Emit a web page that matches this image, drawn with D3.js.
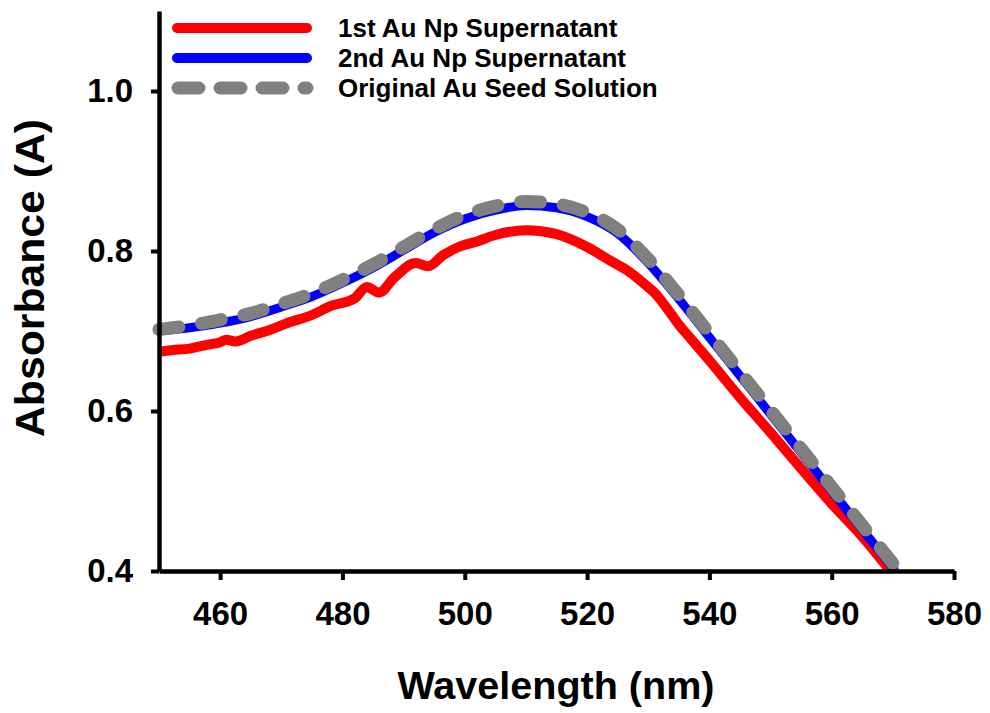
<!DOCTYPE html>
<html>
<head>
<meta charset="utf-8">
<script src="https://cdn.jsdelivr.net/npm/d3@7"></script>
<style>
    body { margin: 0; background: #fff; }
    text { font-family: Arial, "Liberation Sans", sans-serif; font-weight: bold; fill: #000; }
</style>
</head>
<body>
<div class="container"></div>
<script>
const width = 990;
const height = 713;
const margin = { left: 159, right: 34, top: 11, bottom: 142 };

const xTicks = [460, 480, 500, 520, 540, 560, 580];
const yTicks = [0.4, 0.6, 0.8, 1.0];
const seriesNames = ['1st Au Np Supernatant', '2nd Au Np Supernatant', 'Original Au Seed Solution'];

// 1st supernatant (red)
const redWavelength = [450, 452, 455, 458, 460, 461, 462.5, 465, 468, 471, 475, 478, 482, 484, 486, 488.5,
    492, 494, 496.5, 499, 502, 505, 510, 515, 520, 524, 526.5, 529.5, 531, 533, 535, 537, 540,
    545, 550, 555, 560, 565, 569.3];
const redAbsorbance = [0.674, 0.676, 0.678, 0.683, 0.686, 0.689, 0.687, 0.694, 0.701, 0.710, 0.720, 0.731,
    0.741, 0.755, 0.748, 0.767, 0.785, 0.781, 0.795, 0.805, 0.812, 0.820, 0.826, 0.821, 0.805, 0.787,
    0.776, 0.758, 0.748, 0.729, 0.708, 0.690, 0.663, 0.617, 0.573, 0.528, 0.484, 0.443, 0.403];

// 2nd supernatant (blue)
const blueWavelength = [450, 455, 460, 465, 470, 475, 480, 485, 490, 495, 500, 505, 510, 515, 520, 525,
    530, 535, 540, 545, 550, 555, 560, 565, 570.4];
const blueAbsorbance = [0.700, 0.704, 0.710, 0.718, 0.730, 0.743, 0.760, 0.779, 0.801, 0.823, 0.840, 0.851,
    0.857, 0.854, 0.843, 0.822, 0.785, 0.740, 0.692, 0.644, 0.596, 0.548, 0.500, 0.452, 0.400];

// original seed solution (grey, dashed)
const greyWavelength = [450, 455, 460, 465, 470, 475, 480, 485, 490, 495, 500, 505, 510, 515, 520, 525,
    530, 535, 540, 545, 550, 555, 560, 565, 571];
const greyAbsorbance = [0.702, 0.707, 0.714, 0.722, 0.734, 0.747, 0.764, 0.783, 0.805, 0.827, 0.845, 0.856,
    0.862, 0.859, 0.848, 0.827, 0.790, 0.745, 0.697, 0.649, 0.601, 0.553, 0.505, 0.457, 0.400];

const seriesColors = ['#ff0000', '#0000ff', '#808080'];
const seriesWidths = [10, 9, 13];
const seriesDashes = [null, null, '20,23'];

function toPoints(xs, ys) {
    return xs.map((x, i) => ({ x, y: ys[i] }));
}

const series = [
    toPoints(redWavelength, redAbsorbance),
    toPoints(blueWavelength, blueAbsorbance),
    toPoints(greyWavelength, greyAbsorbance),
];

const x = d3.scaleLinear().domain([450, 580]).range([margin.left, width - margin.right - 2]);
const y = d3.scaleLinear().domain([0.4, 1.1]).range([height - margin.bottom, margin.top]);

const svg = d3.select('.container')
    .append('svg')
    .attr('width', width)
    .attr('height', height);

// curves
const line = d3.line()
    .x(d => x(d.x))
    .y(d => y(d.y))
    .curve(d3.curveMonotoneX);

svg.selectAll('.series')
    .data(series)
    .enter()
    .append('path')
    .attr('class', 'series')
    .attr('d', line)
    .attr('fill', 'none')
    .attr('stroke', (d, i) => seriesColors[i])
    .attr('stroke-width', (d, i) => seriesWidths[i])
    .attr('stroke-dasharray', (d, i) => seriesDashes[i])
    .attr('stroke-linecap', (d, i) => seriesDashes[i] ? 'round' : 'butt')
    .attr('stroke-linejoin', 'round');

// axes
const xAxis = svg.append('g')
    .attr('transform', `translate(0,${y(0.4)})`)
    .call(d3.axisBottom(x).tickValues(xTicks).tickFormat(d3.format('d'))
        .tickSize(9).tickSizeOuter(0).tickPadding(22));

const yAxis = svg.append('g')
    .attr('transform', `translate(${x(450)},0)`)
    .call(d3.axisLeft(y).tickValues(yTicks).tickFormat(d3.format('.1f'))
        .tickSize(8).tickSizeOuter(0).tickPadding(18));

[xAxis, yAxis].forEach(g => {
    g.select('.domain').attr('stroke', '#000').attr('stroke-width', 4.5);
    g.selectAll('.tick line').attr('stroke', '#000').attr('stroke-width', 4);
    g.selectAll('.tick text')
        .attr('font-size', 33)
        .attr('font-family', 'Arial, "Liberation Sans", sans-serif')
        .attr('font-weight', 'bold')
        .attr('fill', '#000');
});

// axis titles
svg.append('text')
    .attr('x', 556)
    .attr('y', 699)
    .attr('text-anchor', 'middle')
    .attr('font-size', 39)
    .attr('textLength', 317)
    .attr('lengthAdjust', 'spacingAndGlyphs')
    .text('Wavelength (nm)');

svg.append('text')
    .attr('transform', 'translate(44,278) rotate(-90)')
    .attr('text-anchor', 'middle')
    .attr('font-size', 40)
    .attr('textLength', 318)
    .attr('lengthAdjust', 'spacingAndGlyphs')
    .text('Absorbance (A)');

// legend
const legend = svg.selectAll('.legend')
    .data(seriesNames)
    .enter()
    .append('g')
    .attr('class', 'legend')
    .attr('transform', (d, i) => `translate(0,${28 + i * 30})`);

legend.append('line')
    .attr('x1', (d, i) => seriesDashes[i] ? 178 : 177)
    .attr('x2', 307)
    .attr('stroke', (d, i) => seriesColors[i])
    .attr('stroke-width', (d, i) => i === 2 ? 13 : 10)
    .attr('stroke-dasharray', (d, i) => seriesDashes[i] ? '21,21' : null)
    .attr('stroke-linecap', 'round');

legend.append('text')
    .attr('x', 338)
    .attr('dy', '0.35em')
    .attr('font-size', 26)
    .text(d => d);
</script>
</body>
</html>
